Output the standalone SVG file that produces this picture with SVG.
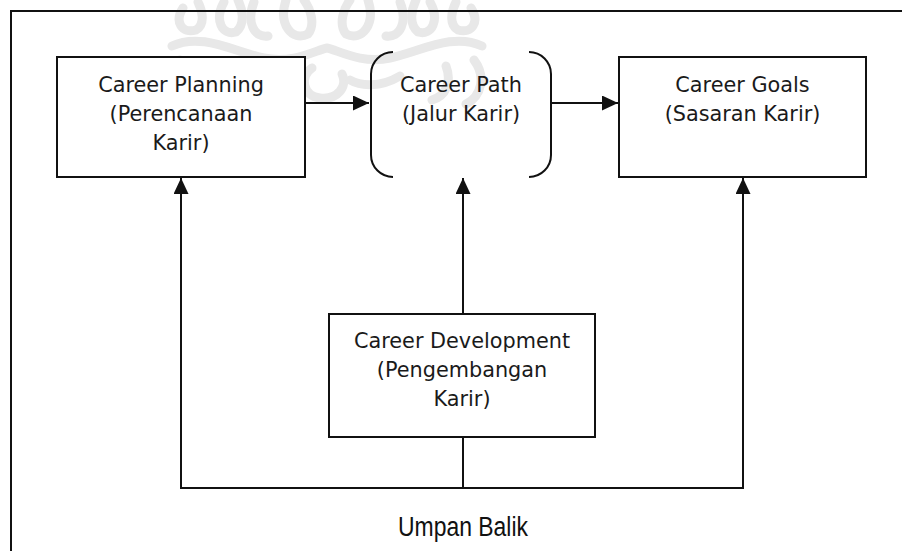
<svg xmlns="http://www.w3.org/2000/svg" width="902" height="551" viewBox="0 0 902 551">
<style>
.box{fill:#fff;stroke:#111;stroke-width:2}
.br{fill:none;stroke:#111;stroke-width:2}
.ln{fill:none;stroke:#111;stroke-width:2}
.t{font-family:"DejaVu Sans",Verdana,sans-serif;font-size:20.8px;fill:#1a1a1a;text-anchor:middle}
.fb{font-family:"Liberation Sans Narrow","Liberation Sans",Arial,sans-serif;font-size:27px;fill:#111;text-anchor:middle}
.wm{fill:none;stroke:#e8e8e8;stroke-width:9;stroke-linecap:round}
</style>
<defs>
<marker id="ah" markerUnits="userSpaceOnUse" markerWidth="16" markerHeight="15" refX="16" refY="7.5" orient="auto">
<path d="M0,0 L16,7.5 L0,15 z" fill="#111"/>
</marker>
</defs>
<rect width="902" height="551" fill="#fff"/>
<g id="watermark">
<path class="wm" d="M183,8 C174,22 182,34 196,30 C206,24 202,10 198,2"/>
<path class="wm" d="M224,2 C214,20 222,36 236,32 C246,24 242,8 238,0"/>
<path class="wm" d="M254,2 C246,22 254,38 268,36"/>
<path class="wm" d="M286,0 C278,24 292,42 308,34 C316,24 310,8 304,0"/>
<path class="wm" d="M471,8 C480,22 472,34 458,30 C448,24 452,10 456,2"/>
<path class="wm" d="M430,2 C440,20 432,36 418,32 C408,24 412,8 416,0"/>
<path class="wm" d="M400,2 C408,22 400,38 386,36"/>
<path class="wm" d="M368,0 C376,24 362,42 346,34 C338,24 344,8 350,0"/>
<path class="wm" d="M172,46 C202,32 234,52 264,58 C294,64 316,50 327,48 C338,50 360,64 390,58 C420,52 452,32 482,46"/>
<path class="wm" d="M180,60 C168,76 172,96 188,104 M474,60 C486,76 482,96 466,104"/>
<path class="wm" d="M208,66 C202,82 208,96 222,100 M446,66 C452,82 446,96 432,100"/>
<path class="wm" d="M312,68 C300,76 302,96 320,98 C338,100 348,86 342,74"/>
<path class="wm" d="M254,76 C274,88 294,86 304,80 M400,76 C380,88 360,86 350,80"/>
</g>
<path class="ln" d="M11,551 L11,11 L902,11"/>
<g id="connectors">
<line class="ln" x1="305" y1="103" x2="369" y2="103" marker-end="url(#ah)"/>
<line class="ln" x1="551" y1="103" x2="618" y2="103" marker-end="url(#ah)"/>
<line class="ln" x1="181" y1="488" x2="181" y2="178" marker-end="url(#ah)"/>
<line class="ln" x1="463" y1="314" x2="463" y2="178" marker-end="url(#ah)"/>
<line class="ln" x1="743" y1="488" x2="743" y2="178" marker-end="url(#ah)"/>
<line class="ln" x1="463" y1="437" x2="463" y2="488"/>
<line class="ln" x1="180" y1="488" x2="744" y2="488"/>
<text class="fb" x="463" y="536" textLength="130" lengthAdjust="spacingAndGlyphs">Umpan Balik</text>
</g>
<g id="planning">
<rect class="box" x="57" y="57" width="248" height="120"/>
<text class="t" x="181" y="92">Career Planning</text>
<text class="t" x="181" y="121">(Perencanaan</text>
<text class="t" x="181" y="150">Karir)</text>
</g>
<g id="path">
<path class="br" d="M393,52 A22,22 0 0 0 371,74 L371,155 A22,22 0 0 0 393,177"/>
<path class="br" d="M529,52 A22,22 0 0 1 551,74 L551,155 A22,22 0 0 1 529,177"/>
<text class="t" x="461" y="92">Career Path</text>
<text class="t" x="461" y="121">(Jalur Karir)</text>
</g>
<g id="goals">
<rect class="box" x="619" y="57" width="247" height="120"/>
<text class="t" x="742.5" y="92">Career Goals</text>
<text class="t" x="742.5" y="121">(Sasaran Karir)</text>
</g>
<g id="development">
<rect class="box" x="329" y="314" width="266" height="123"/>
<text class="t" x="462" y="348">Career Development</text>
<text class="t" x="462" y="377">(Pengembangan</text>
<text class="t" x="462" y="406">Karir)</text>
</g>
</svg>
